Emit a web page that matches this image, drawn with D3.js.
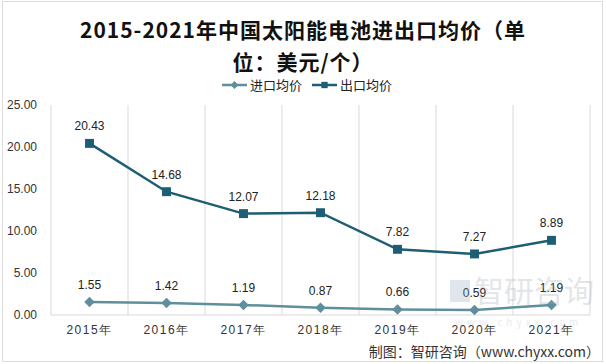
<!DOCTYPE html>
<html>
<head>
<meta charset="utf-8">
<script src="https://cdn.jsdelivr.net/npm/d3@7"></script>
<style>
  body { margin: 0; background: #fff; }
  svg { display: block; font-family: "Noto Sans CJK SC", "Noto Sans", sans-serif; }
  .axis-y text { font-family: "Liberation Sans", "Noto Sans", sans-serif; font-size: 12px; fill: #333; }
  .axis-x text { font-size: 12px; fill: #333; letter-spacing: 1.5px; }
  .axis path, .axis line { display: none; }
  .grid-line { stroke: #d9d9d9; stroke-width: 1; }
  .val { font-family: "Liberation Sans", "Noto Sans", sans-serif; font-size: 12px; fill: #222; }
</style>
</head>
<body>
<svg width="606" height="364"></svg>
<script>
'use strict';

// datos
var years = ['2015年', '2016年', '2017年', '2018年', '2019年', '2020年', '2021年'];
var importPrice = [1.55, 1.42, 1.19, 0.87, 0.66, 0.59, 1.19];
var exportPrice = [20.43, 14.68, 12.07, 12.18, 7.82, 7.27, 8.89];
var yTicks = [0, 5, 10, 15, 20, 25];
var seriesNames = ['进口均价', '出口均价'];

var colorImport = '#5f8f9c';
var colorExport = '#1d5e74';

var margin = { top: 105, right: 16, bottom: 49, left: 51 };
var w = 606, h = 364;
var width = w - margin.left - margin.right;
var height = h - margin.top - margin.bottom;

var svg = d3.select('svg');

// marco exterior
svg.append('rect').attr('x', 2.5).attr('y', 1.5).attr('width', 600).attr('height', 360)
  .attr('fill', 'none').attr('stroke', '#dcdcdc');

// titulo
var title = svg.append('text').attr('text-anchor', 'middle')
  .style('font-size', '21px').style('font-weight', 'bold').style('letter-spacing', '1px').attr('fill', '#111');
title.append('tspan').attr('x', 303).attr('y', 38).text('2015-2021年中国太阳能电池进出口均价（单');
title.append('tspan').attr('x', 303).attr('y', 70).text('位：美元/个）');

var x = d3.scaleBand().domain(years).range([0, width]);
var y = d3.scaleLinear().domain([0, 25]).range([height, 0]);

var g = svg.append('g').attr('transform', 'translate(' + margin.left + ',' + margin.top + ')');

// marca de agua (debajo de las series)
var wm = svg.append('g').attr('opacity', 0.28);
wm.append('rect').attr('x', 450).attr('y', 280).attr('width', 20).attr('height', 22).attr('fill', '#8fa9bf');
wm.append('text').attr('x', 474).attr('y', 302).style('font-size', '30px').attr('fill', '#9aa7b4').text('智研咨询');
wm.append('text').attr('x', 455).attr('y', 326).style('font-size', '10px').style('letter-spacing', '4px')
  .attr('fill', '#b0b8c0').text('www.chyxx.com');

// lineas verticales entre categorias
var bounds = years.map(function (d) { return x(d); }).concat([width]);
g.selectAll('.grid-line').data(bounds).enter().append('line')
  .attr('class', 'grid-line')
  .attr('x1', function (d) { return d; }).attr('x2', function (d) { return d; })
  .attr('y1', 0).attr('y2', height);
g.append('line').attr('class', 'grid-line').attr('x1', 0).attr('x2', width).attr('y1', height).attr('y2', height);

// ejes
g.append('g').attr('class', 'axis axis-y')
  .call(d3.axisLeft(y).tickValues(yTicks).tickFormat(d3.format('.2f')).tickSize(0).tickPadding(14));
g.append('g').attr('class', 'axis axis-x').attr('transform', 'translate(0,' + height + ')')
  .call(d3.axisBottom(x).tickSize(0).tickPadding(10));

var cx = function (i) { return x(years[i]) + x.bandwidth() / 2; };
var line = d3.line().x(function (d, i) { return cx(i); }).y(function (d) { return y(d); });

function drawSeries(values, color, shape) {
  g.append('path').datum(values).attr('d', line)
    .attr('fill', 'none').attr('stroke', color).attr('stroke-width', 2.5);
  var sym = d3.symbol().type(shape).size(shape === d3.symbolSquare ? 80 : 70);
  g.selectAll(null).data(values).enter().append('path')
    .attr('d', sym)
    .attr('transform', function (d, i) { return 'translate(' + cx(i) + ',' + y(d) + ')'; })
    .attr('fill', color);
  g.selectAll(null).data(values).enter().append('text')
    .attr('class', 'val').attr('text-anchor', 'middle')
    .attr('x', function (d, i) { return cx(i); })
    .attr('y', function (d) { return y(d) - 13; })
    .text(function (d) { return d3.format('.2f')(d); });
}

drawSeries(importPrice, colorImport, d3.symbolDiamond2);
drawSeries(exportPrice, colorExport, d3.symbolSquare);

// leyenda
var legendItems = [
  { name: seriesNames[0], color: colorImport, shape: d3.symbolDiamond2, x: 222 },
  { name: seriesNames[1], color: colorExport, shape: d3.symbolSquare, x: 312 }
];
var lg = svg.append('g').selectAll('g').data(legendItems).enter().append('g')
  .attr('transform', function (d) { return 'translate(' + d.x + ',85)'; });
lg.append('line').attr('x1', 0).attr('x2', 25).attr('stroke', function (d) { return d.color; }).attr('stroke-width', 2.5);
lg.append('path').attr('transform', 'translate(12.5,0)')
  .attr('d', function (d) { return d3.symbol().type(d.shape).size(40)(); })
  .attr('fill', function (d) { return d.color; });
lg.append('text').attr('x', 28).attr('y', 5).style('font-size', '13px').attr('fill', '#222')
  .text(function (d) { return d.name; });

// fuente
svg.append('text').attr('x', 600).attr('y', 357).attr('text-anchor', 'end')
  .style('font-size', '14px').attr('fill', '#333').text('制图：智研咨询（www.chyxx.com）');
</script>
</body>
</html>
